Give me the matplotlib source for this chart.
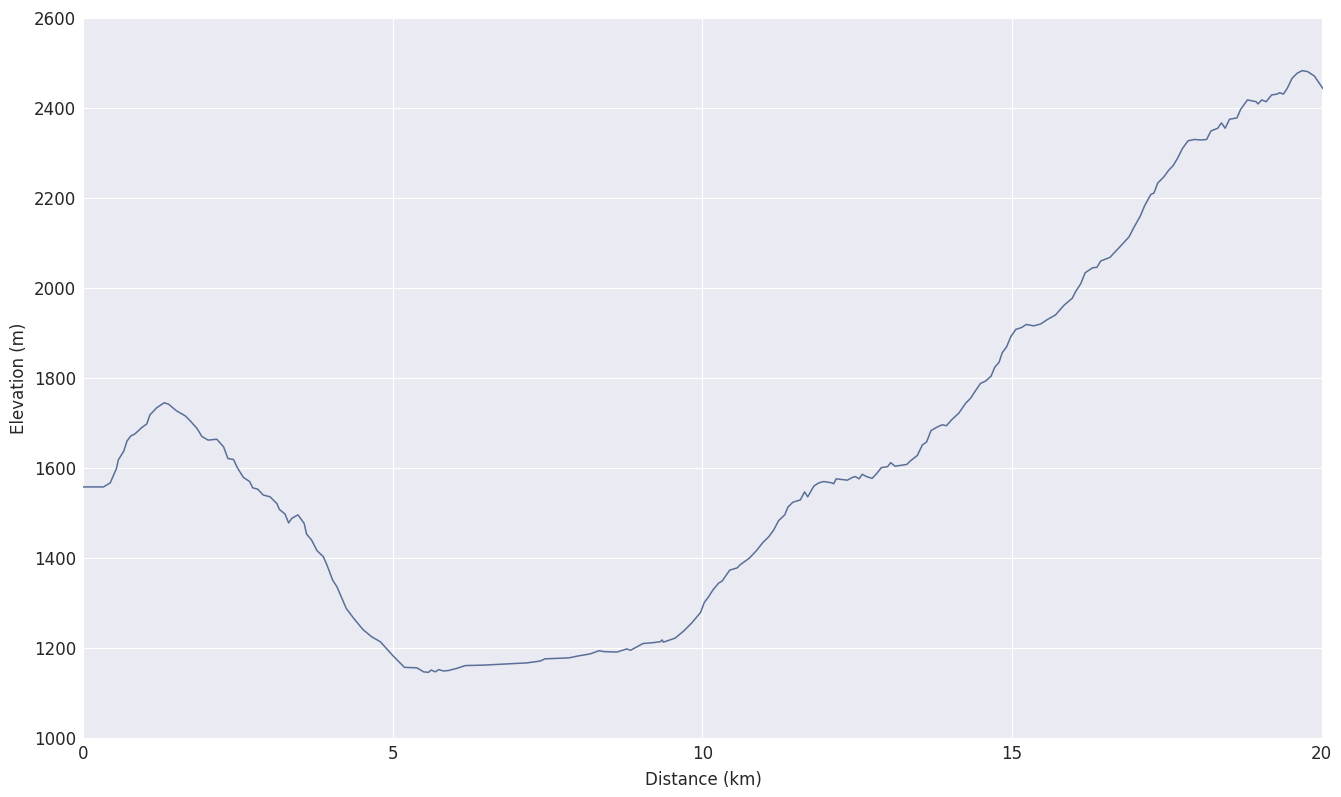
import matplotlib
matplotlib.use("Agg")
import matplotlib.pyplot as plt

# elevation profile
distance_km = [0.00, 0.33, 0.44, 0.54, 0.57, 0.66, 0.71, 0.77, 0.84, 0.95, 1.03, 1.08, 1.19, 1.31,
               1.38, 1.51, 1.65, 1.73, 1.84, 1.92, 2.02, 2.16, 2.27, 2.34, 2.43, 2.49, 2.59, 2.69,
               2.74, 2.82, 2.91, 3.02, 3.13, 3.17, 3.26, 3.32, 3.37, 3.47, 3.57, 3.61, 3.69, 3.78,
               3.88, 3.94, 4.03, 4.10, 4.25, 4.37, 4.52, 4.66, 4.80, 5.01, 5.19, 5.39, 5.50, 5.58,
               5.62, 5.69, 5.74, 5.82, 5.90, 6.04, 6.17, 6.47, 6.90, 7.17, 7.38, 7.46, 7.84, 7.98,
               8.19, 8.33, 8.41, 8.62, 8.76, 8.78, 8.84, 8.92, 9.04, 9.21, 9.32, 9.35, 9.37, 9.56,
               9.70, 9.83, 9.97, 10.03, 10.10, 10.17, 10.26, 10.32, 10.44, 10.56, 10.61, 10.76,
               10.87, 10.98, 11.07, 11.15, 11.23, 11.33, 11.38, 11.46, 11.58, 11.65, 11.70, 11.80,
               11.88, 11.96, 12.09, 12.12, 12.16, 12.34, 12.42, 12.47, 12.53, 12.58, 12.65, 12.74,
               12.81, 12.89, 12.99, 13.04, 13.11, 13.30, 13.36, 13.47, 13.55, 13.62, 13.69, 13.79,
               13.87, 13.94, 14.03, 14.14, 14.25, 14.33, 14.41, 14.49, 14.57, 14.66, 14.72, 14.79,
               14.84, 14.91, 14.98, 15.06, 15.15, 15.23, 15.35, 15.46, 15.57, 15.70, 15.84, 15.97,
               16.03, 16.11, 16.18, 16.30, 16.37, 16.43, 16.58, 16.64, 16.75, 16.89, 16.96, 17.07,
               17.14, 17.24, 17.29, 17.35, 17.45, 17.53, 17.60, 17.67, 17.75, 17.84, 17.94, 18.05,
               18.14, 18.21, 18.32, 18.38, 18.44, 18.51, 18.63, 18.69, 18.80, 18.94, 18.97, 19.03,
               19.10, 19.19, 19.28, 19.32, 19.38, 19.44, 19.52, 19.60, 19.68, 19.77, 19.88, 19.96,
               20.02]
elevation_m = [1558, 1558, 1567, 1599, 1618, 1638, 1660, 1671, 1676, 1690, 1698, 1718, 1734, 1745,
               1742, 1727, 1716, 1705, 1688, 1670, 1662, 1664, 1647, 1621, 1619, 1601, 1579, 1570,
               1556, 1553, 1540, 1536, 1521, 1508, 1498, 1478, 1488, 1496, 1477, 1453, 1440, 1416,
               1403, 1384, 1351, 1336, 1288, 1266, 1241, 1225, 1214, 1182, 1157, 1156, 1147, 1146,
               1151, 1147, 1152, 1149, 1150, 1155, 1161, 1162, 1165, 1167, 1171, 1176, 1178, 1182,
               1187, 1194, 1192, 1191, 1197, 1198, 1195, 1201, 1210, 1212, 1214, 1218, 1213, 1222,
               1238, 1256, 1279, 1301, 1314, 1329, 1344, 1349, 1373, 1378, 1385, 1400,
               1416, 1435, 1447, 1462, 1483, 1496, 1513, 1524, 1529, 1547, 1536, 1560,
               1567, 1570, 1567, 1565, 1576, 1573, 1579, 1581, 1576, 1586, 1581, 1577,
               1587, 1601, 1603, 1612, 1604, 1608, 1616, 1628, 1651, 1658, 1683, 1691,
               1696, 1694, 1708, 1722, 1744, 1755, 1772, 1788, 1793, 1804, 1824, 1835,
               1856, 1869, 1892, 1908, 1912, 1919, 1916, 1920, 1930, 1940, 1962, 1977,
               1993, 2010, 2034, 2045, 2046, 2060, 2068, 2077, 2093, 2114, 2133, 2160,
               2183, 2208, 2211, 2233, 2247, 2262, 2272, 2288, 2310, 2327, 2330, 2329,
               2330, 2349, 2355, 2367, 2355, 2375, 2378, 2397, 2418, 2414, 2409, 2418,
               2414, 2429, 2431, 2434, 2431, 2443, 2466, 2477, 2483, 2481, 2471, 2455,
               2443]

plt.rcParams['font.family'] = ['DejaVu Sans']
fig = plt.figure(figsize=(13.41, 7.97), dpi=100)
ax = fig.add_axes([0.0619, 0.074, 0.9247, 0.9034])
ax.set_facecolor('#EAEAF2')
ax.grid(True, color='white', linewidth=0.8)
ax.set_axisbelow(True)
for s in ax.spines.values():
    s.set_visible(False)

ax.plot(distance_km, elevation_m, color='#5a6f98', linewidth=1.1)

ax.set_xlim(0, distance_km[-1])
ax.set_ylim(1000, 2600)
ax.set_xticks([0, 5, 10, 15, 20])
ax.set_yticks(range(1000, 2601, 200))
ax.tick_params(length=0, labelsize=12, colors='#262626', pad=5)
ax.set_xlabel('Distance (km)', fontsize=12, color='#262626', labelpad=6)
ax.set_ylabel('Elevation (m)', fontsize=12, color='#262626', labelpad=4)

fig.savefig('out.png', dpi=100)
